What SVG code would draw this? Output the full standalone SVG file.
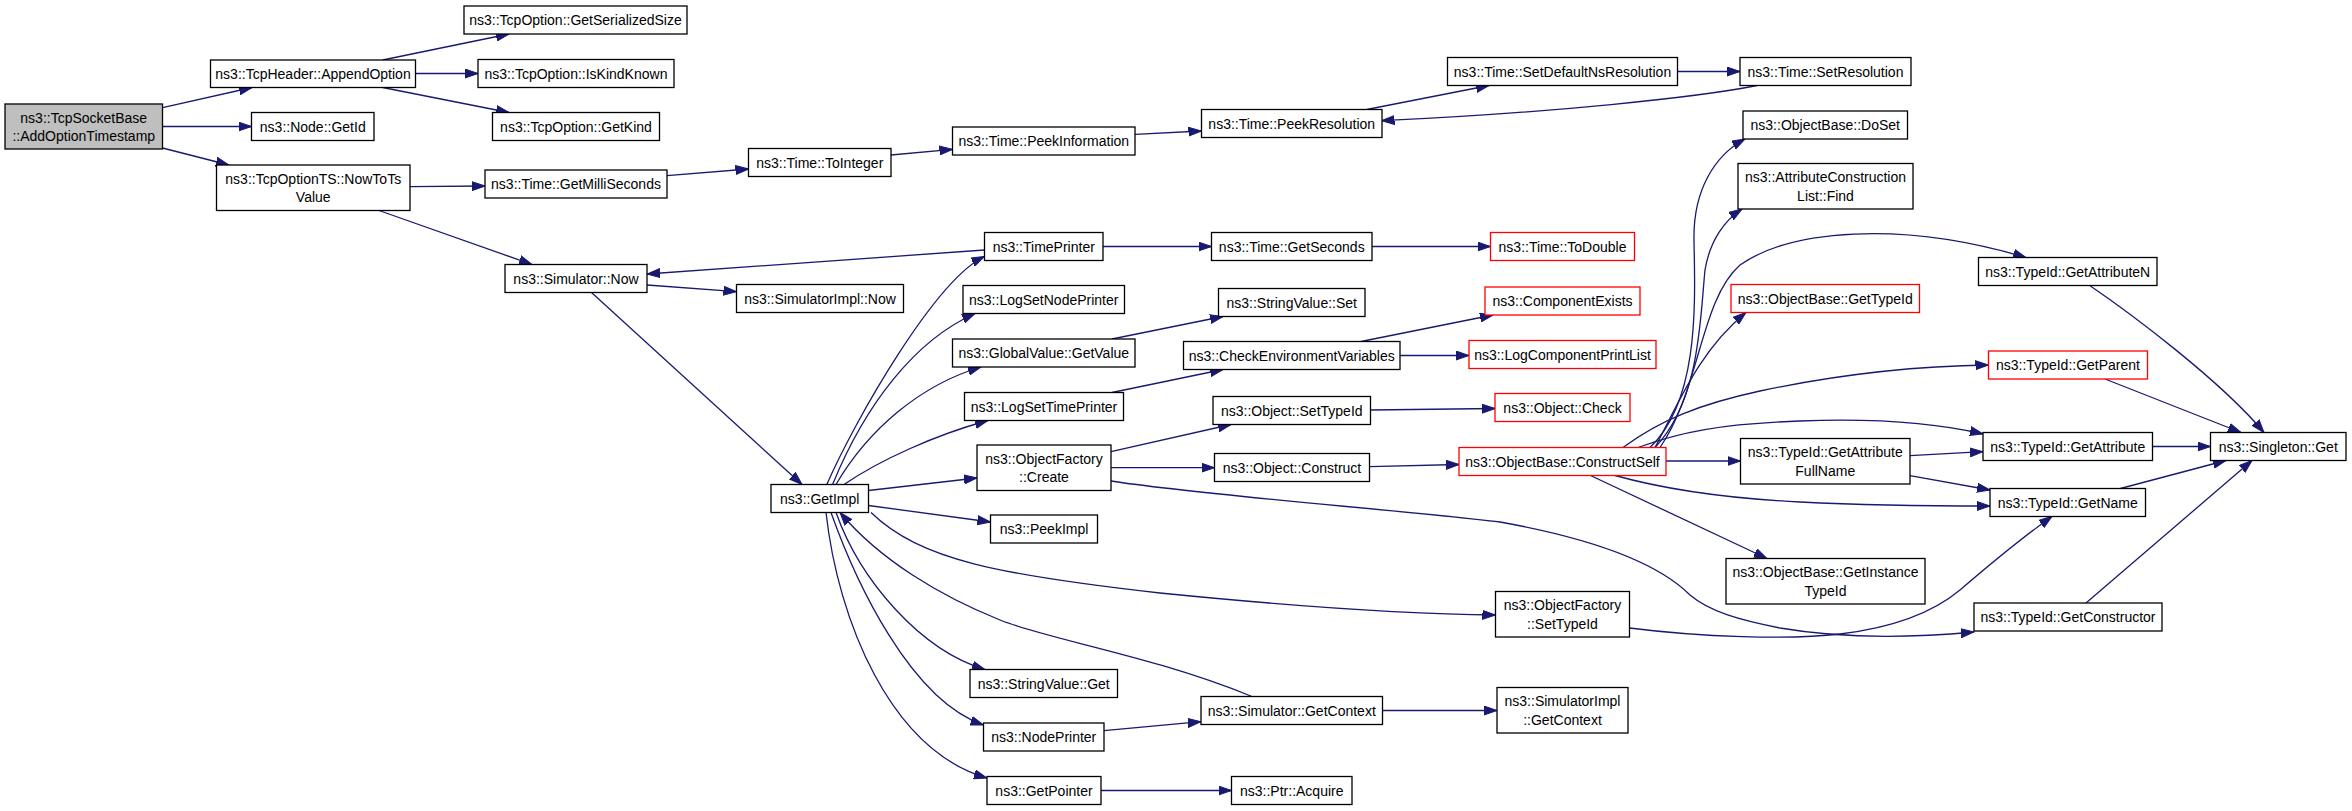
<svg xmlns="http://www.w3.org/2000/svg" width="2352" height="811" viewBox="0 0 2352 811">
<style>
rect{fill:#fff;stroke:#000;stroke-width:1.3}
.red rect{stroke:#f00}
.root rect{fill:#bfbfbf}
text{font-family:"Liberation Sans",Arial,Helvetica,sans-serif;font-size:14px;text-anchor:middle;fill:#000}
#edges path{fill:none;stroke:#191970;stroke-width:1.3;marker-end:url(#a)}
</style>
<defs>
<marker id="a" markerUnits="userSpaceOnUse" markerWidth="14" markerHeight="10" refX="13" refY="5" orient="auto" viewBox="0 0 14 10"><path d="M0,0.5 L13,5 L0,9.5 z" fill="#191970" stroke="#191970" stroke-width="1"/></marker>
</defs>
<rect x="0" y="0" width="2352" height="811" style="fill:#fff;stroke:none"/>
<g id="edges">
<path d="M162.6,107.7 L252,87.5"/>
<path d="M162.5,126.5 L251.5,126.5"/>
<path d="M162.5,148 L229,165"/>
<path d="M382.7,60 L509,34"/>
<path d="M415.5,73.5 L478,73.5"/>
<path d="M382.7,87.5 L509,112.5"/>
<path d="M410,186.7 L485,186"/>
<path d="M379,210.5 L532,264.5"/>
<path d="M667,175.7 L748.5,169"/>
<path d="M891,155 L952.5,149.3"/>
<path d="M1135,134.3 L1201.5,131"/>
<path d="M1366.7,109.5 L1489,85.5"/>
<path d="M1677.5,71.5 L1740,71.5"/>
<path d="M1757,85.5 C1700,97 1550,113 1381.5,120.7"/>
<path d="M591.5,292.5 L802,484.5"/>
<path d="M647,285 L736.5,291.7"/>
<path d="M826.8,484.5 C855,420 935,280 984.5,256.5"/>
<path d="M984.5,250 L647,274"/>
<path d="M1103,246.5 L1211.5,246.5"/>
<path d="M1372,246.5 L1490.5,246.5"/>
<path d="M832.6,484.5 C865,405 915,340 975,313.5"/>
<path d="M836,484.5 C868,430 920,385 981,367"/>
<path d="M844,484.5 C880,460 935,435 988,420.5"/>
<path d="M868.5,490.5 L977,478"/>
<path d="M868.5,505.5 L990.5,522"/>
<path d="M836,512.5 C860,580 920,650 985,669.5"/>
<path d="M831,512.5 C855,580 910,700 983.5,725"/>
<path d="M826,512.5 C838,620 890,750 987,778"/>
<path d="M1252,696.5 C1150,655 1050,640 1000,620 C940,596 880,560 840,512.5"/>
<path d="M871,512.5 C920,560 1000,575 1160,593 C1300,607 1400,614 1495.5,615"/>
<path d="M1104,730.7 L1201,721.7"/>
<path d="M1382.5,710.5 L1497,710.5"/>
<path d="M1101,790.5 L1231.5,790.5"/>
<path d="M1112,339 L1223,316.5"/>
<path d="M1112,392.5 L1223,369.5"/>
<path d="M1361,341.5 L1493,315"/>
<path d="M1400,355.5 L1469,355.5"/>
<path d="M1111,451.7 L1231,424.5"/>
<path d="M1111,467.7 L1214.5,467.7"/>
<path d="M1370.5,410 L1495,408.5"/>
<path d="M1369.5,466.7 L1459,464.5"/>
<path d="M1111,481 C1200,495 1400,510 1500,522 C1600,540 1660,565 1690,595 C1710,612 1740,620 1780,628 C1850,640 1920,637 1974,632"/>
<path d="M1629.5,628 C1700,637 1790,640 1840,634 C1890,628 1930,615 1960,590 C1995,560 2030,532 2052,516.5"/>
<path d="M1590.5,475.5 L1767,558.5"/>
<path d="M1615,475.5 C1660,488 1720,498 1800,502 C1880,506 1940,506 1990,506"/>
<path d="M1666,461 L1740.5,461"/>
<path d="M1638,447.5 C1680,432 1720,424 1800,421 C1880,418 1940,424 1983,434"/>
<path d="M1623,447.5 C1660,420 1700,404 1760,391 C1840,374 1920,366 1988.5,365"/>
<path d="M1655,447.5 C1680,400 1700,350 1746,312.5"/>
<path d="M1650,447.5 C1700,400 1695,300 1694,240 C1693,190 1715,155 1745,139"/>
<path d="M1655,447.5 C1700,400 1700,320 1705,270 C1710,240 1725,220 1742,209"/>
<path d="M1660,447.5 C1700,390 1700,300 1740,265 C1790,230 1900,220 2026,257.5"/>
<path d="M1910,455.7 L1983,451.7"/>
<path d="M1910,475.7 L1990,490"/>
<path d="M2089.7,285.5 C2130,313 2220,380 2264,432.5"/>
<path d="M2105,379 L2241,432.5"/>
<path d="M2152.5,446.5 L2210.5,446.5"/>
<path d="M2120.4,488.5 L2226,460.5"/>
<path d="M2086,603 L2252,460.5"/>
</g>
<g id="n_root" class="root"><rect x="5" y="104" width="157.5" height="45"/><text x="83.75" y="122.5">ns3::TcpSocketBase</text><text x="83.75" y="141">::AddOptionTimestamp</text></g>
<g id="n_append"><rect x="210.5" y="60" width="205" height="27.5"/><text x="313" y="78.75">ns3::TcpHeader::AppendOption</text></g>
<g id="n_getid"><rect x="251.5" y="112.5" width="122.5" height="28"/><text x="312.75" y="131.5">ns3::Node::GetId</text></g>
<g id="n_nowtots"><rect x="216.5" y="165" width="193.5" height="45.5"/><text x="313.25" y="183.75">ns3::TcpOptionTS::NowToTs</text><text x="313.25" y="202.25">Value</text></g>
<g id="n_getser"><rect x="464" y="6" width="223" height="28"/><text x="575.5" y="25">ns3::TcpOption::GetSerializedSize</text></g>
<g id="n_iskind"><rect x="478" y="59.5" width="196" height="28"/><text x="576" y="78.5">ns3::TcpOption::IsKindKnown</text></g>
<g id="n_getkind"><rect x="492.5" y="112.5" width="167" height="28"/><text x="576" y="131.5">ns3::TcpOption::GetKind</text></g>
<g id="n_millis"><rect x="485" y="170" width="182" height="28"/><text x="576" y="189">ns3::Time::GetMilliSeconds</text></g>
<g id="n_simnow"><rect x="505" y="264.5" width="142" height="28"/><text x="576" y="283.5">ns3::Simulator::Now</text></g>
<g id="n_simimplnow"><rect x="736.5" y="284.5" width="167" height="28"/><text x="820" y="303.5">ns3::SimulatorImpl::Now</text></g>
<g id="n_toint"><rect x="748.5" y="148.5" width="142.5" height="28"/><text x="819.75" y="167.5">ns3::Time::ToInteger</text></g>
<g id="n_peekinfo"><rect x="952.5" y="127" width="182.5" height="28"/><text x="1043.75" y="146">ns3::Time::PeekInformation</text></g>
<g id="n_peekres"><rect x="1201.5" y="109.5" width="180.5" height="28"/><text x="1291.75" y="128.5">ns3::Time::PeekResolution</text></g>
<g id="n_setdef"><rect x="1447.5" y="57.5" width="230" height="28"/><text x="1562.5" y="76.5">ns3::Time::SetDefaultNsResolution</text></g>
<g id="n_setres"><rect x="1740" y="57.5" width="171" height="28"/><text x="1825.5" y="76.5">ns3::Time::SetResolution</text></g>
<g id="n_timeprinter"><rect x="984.5" y="232.5" width="118.5" height="28"/><text x="1043.75" y="251.5">ns3::TimePrinter</text></g>
<g id="n_getsec"><rect x="1211.5" y="232.5" width="160.5" height="28"/><text x="1291.75" y="251.5">ns3::Time::GetSeconds</text></g>
<g id="n_todouble" class="red"><rect x="1490.5" y="232.5" width="144" height="28"/><text x="1562.5" y="251.5">ns3::Time::ToDouble</text></g>
<g id="n_lognode"><rect x="963" y="285.5" width="161.5" height="28"/><text x="1043.75" y="304.5">ns3::LogSetNodePrinter</text></g>
<g id="n_getvalue"><rect x="952.5" y="339" width="182.5" height="28"/><text x="1043.75" y="358">ns3::GlobalValue::GetValue</text></g>
<g id="n_logtime"><rect x="964.5" y="392.5" width="159" height="28"/><text x="1044" y="411.5">ns3::LogSetTimePrinter</text></g>
<g id="n_create"><rect x="977" y="445" width="134" height="45.5"/><text x="1044" y="463.75">ns3::ObjectFactory</text><text x="1044" y="482.25">::Create</text></g>
<g id="n_getimpl"><rect x="771" y="484.5" width="97.5" height="28"/><text x="819.75" y="503.5">ns3::GetImpl</text></g>
<g id="n_peekimpl"><rect x="990.5" y="515" width="107" height="28"/><text x="1044" y="534">ns3::PeekImpl</text></g>
<g id="n_svget"><rect x="970" y="669.5" width="147.5" height="28"/><text x="1043.75" y="688.5">ns3::StringValue::Get</text></g>
<g id="n_nodeprinter"><rect x="983.5" y="723" width="120.5" height="28"/><text x="1043.75" y="742">ns3::NodePrinter</text></g>
<g id="n_getpointer"><rect x="987" y="776.5" width="114" height="28"/><text x="1044" y="795.5">ns3::GetPointer</text></g>
<g id="n_svset"><rect x="1218.5" y="288.5" width="146.5" height="28"/><text x="1291.75" y="307.5">ns3::StringValue::Set</text></g>
<g id="n_checkenv"><rect x="1183.5" y="341.5" width="216.5" height="28"/><text x="1291.75" y="360.5">ns3::CheckEnvironmentVariables</text></g>
<g id="n_compexists" class="red"><rect x="1485" y="287" width="155" height="28"/><text x="1562.5" y="306">ns3::ComponentExists</text></g>
<g id="n_logcomp" class="red"><rect x="1469" y="340.5" width="187" height="28"/><text x="1562.5" y="359.5">ns3::LogComponentPrintList</text></g>
<g id="n_objsettype"><rect x="1213" y="396.5" width="157.5" height="28"/><text x="1291.75" y="415.5">ns3::Object::SetTypeId</text></g>
<g id="n_check" class="red"><rect x="1495" y="393.5" width="135" height="28"/><text x="1562.5" y="412.5">ns3::Object::Check</text></g>
<g id="n_construct"><rect x="1214.5" y="453.5" width="155" height="28"/><text x="1292" y="472.5">ns3::Object::Construct</text></g>
<g id="n_constructself" class="red"><rect x="1459" y="447.5" width="207" height="28"/><text x="1562.5" y="466.5">ns3::ObjectBase::ConstructSelf</text></g>
<g id="n_ofsettype"><rect x="1495.5" y="591.5" width="134" height="45.5"/><text x="1562.5" y="610.25">ns3::ObjectFactory</text><text x="1562.5" y="628.75">::SetTypeId</text></g>
<g id="n_getcontext"><rect x="1201" y="696.5" width="181.5" height="28"/><text x="1291.75" y="715.5">ns3::Simulator::GetContext</text></g>
<g id="n_implgetctx"><rect x="1497" y="687.5" width="131" height="45.5"/><text x="1562.5" y="706.25">ns3::SimulatorImpl</text><text x="1562.5" y="724.75">::GetContext</text></g>
<g id="n_acquire"><rect x="1231.5" y="776.5" width="120.5" height="28"/><text x="1291.75" y="795.5">ns3::Ptr::Acquire</text></g>
<g id="n_doset"><rect x="1743" y="111" width="164.5" height="28"/><text x="1825.25" y="130">ns3::ObjectBase::DoSet</text></g>
<g id="n_find"><rect x="1738" y="163.5" width="175" height="45.5"/><text x="1825.5" y="182.25">ns3::AttributeConstruction</text><text x="1825.5" y="200.75">List::Find</text></g>
<g id="n_gettypeid" class="red"><rect x="1731" y="284.5" width="188.5" height="28"/><text x="1825.25" y="303.5">ns3::ObjectBase::GetTypeId</text></g>
<g id="n_fullname"><rect x="1740.5" y="438.5" width="169.5" height="45.5"/><text x="1825.25" y="457.25">ns3::TypeId::GetAttribute</text><text x="1825.25" y="475.75">FullName</text></g>
<g id="n_instance"><rect x="1726" y="558.5" width="199" height="45.5"/><text x="1825.5" y="577.25">ns3::ObjectBase::GetInstance</text><text x="1825.5" y="595.75">TypeId</text></g>
<g id="n_getattrn"><rect x="1978.5" y="257.5" width="178.5" height="28"/><text x="2067.75" y="276.5">ns3::TypeId::GetAttributeN</text></g>
<g id="n_getparent" class="red"><rect x="1988.5" y="351" width="159" height="28"/><text x="2068" y="370">ns3::TypeId::GetParent</text></g>
<g id="n_getattr"><rect x="1983" y="432.5" width="169.5" height="28"/><text x="2067.75" y="451.5">ns3::TypeId::GetAttribute</text></g>
<g id="n_getname"><rect x="1990" y="488.5" width="155.5" height="28"/><text x="2067.75" y="507.5">ns3::TypeId::GetName</text></g>
<g id="n_getctor"><rect x="1974" y="603" width="188" height="28"/><text x="2068" y="622">ns3::TypeId::GetConstructor</text></g>
<g id="n_singleton"><rect x="2210.5" y="432.5" width="135.5" height="28"/><text x="2278.25" y="451.5">ns3::Singleton::Get</text></g>
</svg>
